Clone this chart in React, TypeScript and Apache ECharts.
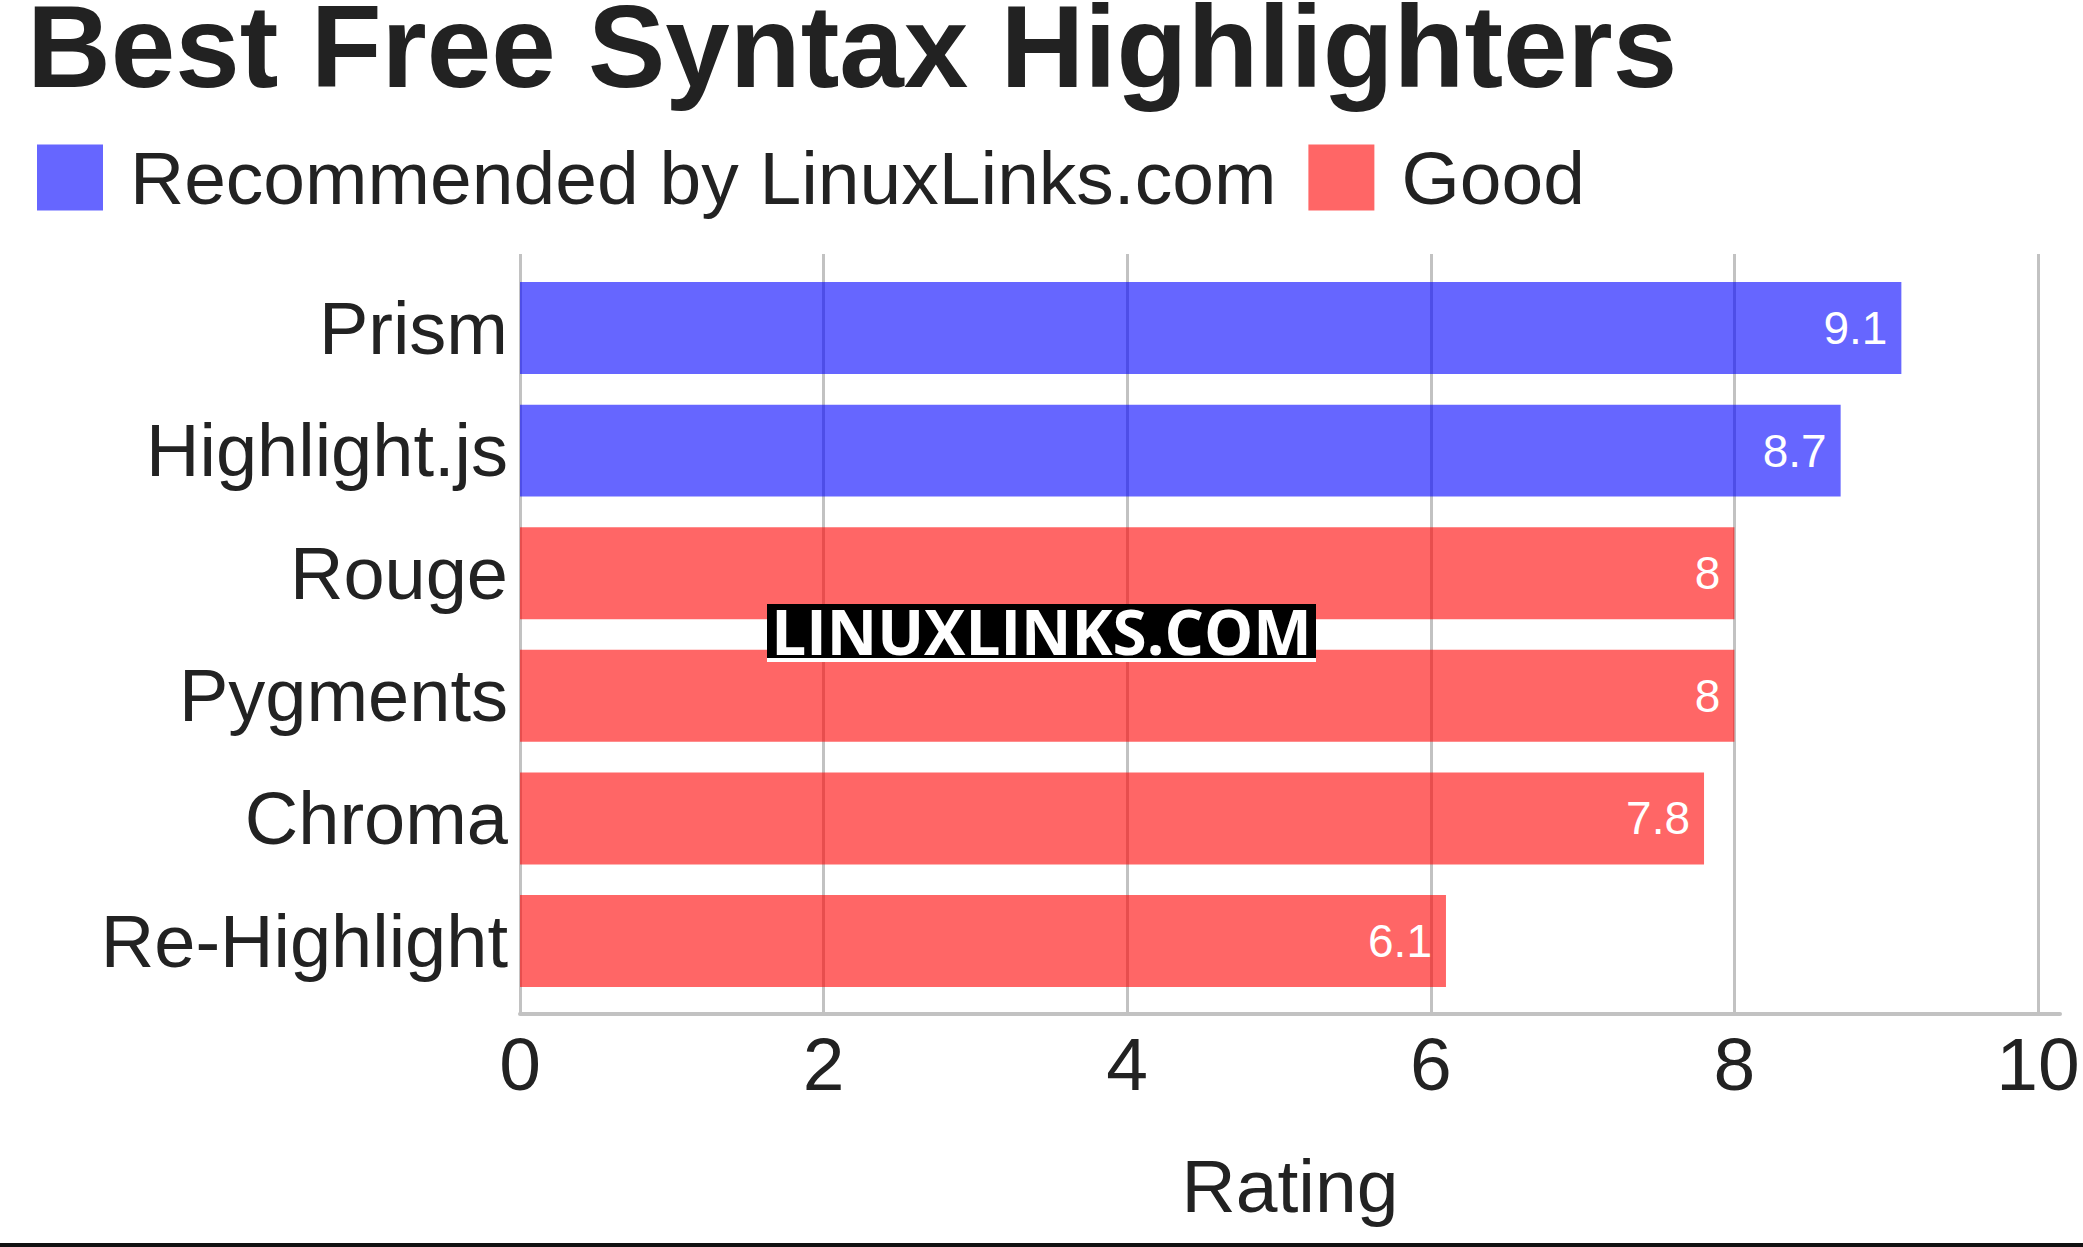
import React, { useEffect, useRef } from 'react';
import * as echarts from 'echarts';

const TITLE = 'Best Free Syntax Highlighters';
const AXIS_NAME = 'Rating';
const WATERMARK = 'LINUXLINKS.COM';
const legendNames = ['Recommended by LinuxLinks.com', 'Good'];
const categories = ['Prism', 'Highlight.js', 'Rouge', 'Pygments', 'Chroma', 'Re-Highlight'];
const recommendedValues: (number | string)[] = [9.1, 8.7, '-', '-', '-', '-'];
const goodValues: (number | string)[] = ['-', '-', 8, 8, 7.8, 6.1];
const X_MIN = 0;
const X_MAX = 10.145;
const X_INTERVAL = 2;

const FONT = '"Liberation Sans", Arial, sans-serif';
const TEXT = '#222222';
const BLUE = 'rgba(0,0,255,0.6)';
const RED = 'rgba(255,0,0,0.6)';
const GRIDC = '#c2c2c2';

export default function App() {
  const ref = useRef<HTMLDivElement>(null);
  useEffect(() => {
    if (!ref.current) return;
    const chart = echarts.init(ref.current, null, { renderer: 'svg' });
    const W = 2083;
    const H = 1247;
    const left = 520;
    const right = W - 2060;
    const option: any = {
      animation: false,
      backgroundColor: '#ffffff',
      title: {
        text: TITLE,
        left: 27,
        top: 0,
        padding: 0,
        textStyle: { fontFamily: FONT, fontWeight: 'bold', fontSize: 116, lineHeight: 94, color: TEXT },
      },
      legend: {
        data: legendNames,
        left: 37,
        top: 140,
        padding: 0,
        icon: 'rect',
        itemWidth: 66,
        itemHeight: 66,
        itemGap: 32,
        textStyle: {
          fontFamily: FONT,
          fontSize: 75,
          color: TEXT,
          lineHeight: 66,
          padding: [0, 0, 8, 22],
        },
      },
      grid: [
        { left, right, top: 254, bottom: H - 1014, containLabel: false },
        { left, right, top: 266.7, bottom: H - 1002.3, containLabel: false },
      ],
      xAxis: [
        {
          gridIndex: 0,
          type: 'value',
          min: X_MIN,
          max: X_MAX,
          interval: X_INTERVAL,
          name: AXIS_NAME,
          nameLocation: 'middle',
          nameGap: 134,
          nameTextStyle: { fontFamily: FONT, fontSize: 75, color: TEXT },
          axisLine: { show: true, lineStyle: { color: GRIDC, width: 4 } },
          axisTick: { show: false },
          axisLabel: {
            fontFamily: FONT,
            fontSize: 75,
            color: TEXT,
            margin: 12,
            showMaxLabel: false,
          },
          splitLine: {
            show: true,
            showMaxLine: false,
            lineStyle: { color: GRIDC, width: 3 },
          },
        },
        {
          gridIndex: 1,
          type: 'value',
          min: X_MIN,
          max: X_MAX,
          interval: X_INTERVAL,
          show: false,
          splitLine: { show: false },
        },
      ],
      yAxis: [
        { gridIndex: 0, type: 'value', show: false, splitLine: { show: false } },
        {
          gridIndex: 1,
          type: 'category',
          data: categories,
          inverse: true,
          axisLine: { show: false },
          axisTick: { show: false },
          splitLine: { show: false },
          axisLabel: { fontFamily: FONT, fontSize: 74, color: TEXT, margin: 12 },
        },
      ],
      series: [
        {
          name: legendNames[0],
          type: 'bar',
          xAxisIndex: 1,
          yAxisIndex: 1,
          stack: 'all',
          data: recommendedValues,
          barCategoryGap: '25%',
          itemStyle: { color: BLUE },
          label: {
            show: true,
            position: 'insideRight',
            distance: 14,
            fontFamily: FONT,
            fontSize: 46,
            color: '#ffffff',
          },
        },
        {
          name: legendNames[1],
          type: 'bar',
          xAxisIndex: 1,
          yAxisIndex: 1,
          stack: 'all',
          data: goodValues,
          barCategoryGap: '25%',
          itemStyle: { color: RED },
          label: {
            show: true,
            position: 'insideRight',
            distance: 14,
            fontFamily: FONT,
            fontSize: 46,
            color: '#ffffff',
          },
        },
      ],
      graphic: [
        {
          type: 'rect',
          z: 100,
          zlevel: 1,
          shape: { x: 767, y: 604, width: 549, height: 54 },
          style: { fill: '#000000' },
        },
        {
          type: 'rect',
          z: 100,
          zlevel: 1,
          shape: { x: 767, y: 658, width: 549, height: 4 },
          style: { fill: '#ffffff' },
        },
        {
          type: 'text',
          z: 101,
          zlevel: 1,
          x: 1041.5,
          y: 631,
          style: {
            text: WATERMARK,
            fill: '#ffffff',
            fontFamily: '"Open Sans", "Noto Sans", sans-serif',
            fontWeight: 'bold',
            fontSize: 62,
            align: 'center',
            verticalAlign: 'middle',
          },
        },
        {
          type: 'rect',
          z: 100,
          zlevel: 1,
          shape: { x: 0, y: 1243, width: W, height: 4 },
          style: { fill: '#111111' },
        },
      ],
    };
    chart.setOption(option);
    return () => chart.dispose();
  }, []);
  return (
    <div
      ref={ref}
      style={{ position: 'fixed', left: 0, top: 0, width: 2083, height: 1247, background: '#fff' }}
    />
  );
}
